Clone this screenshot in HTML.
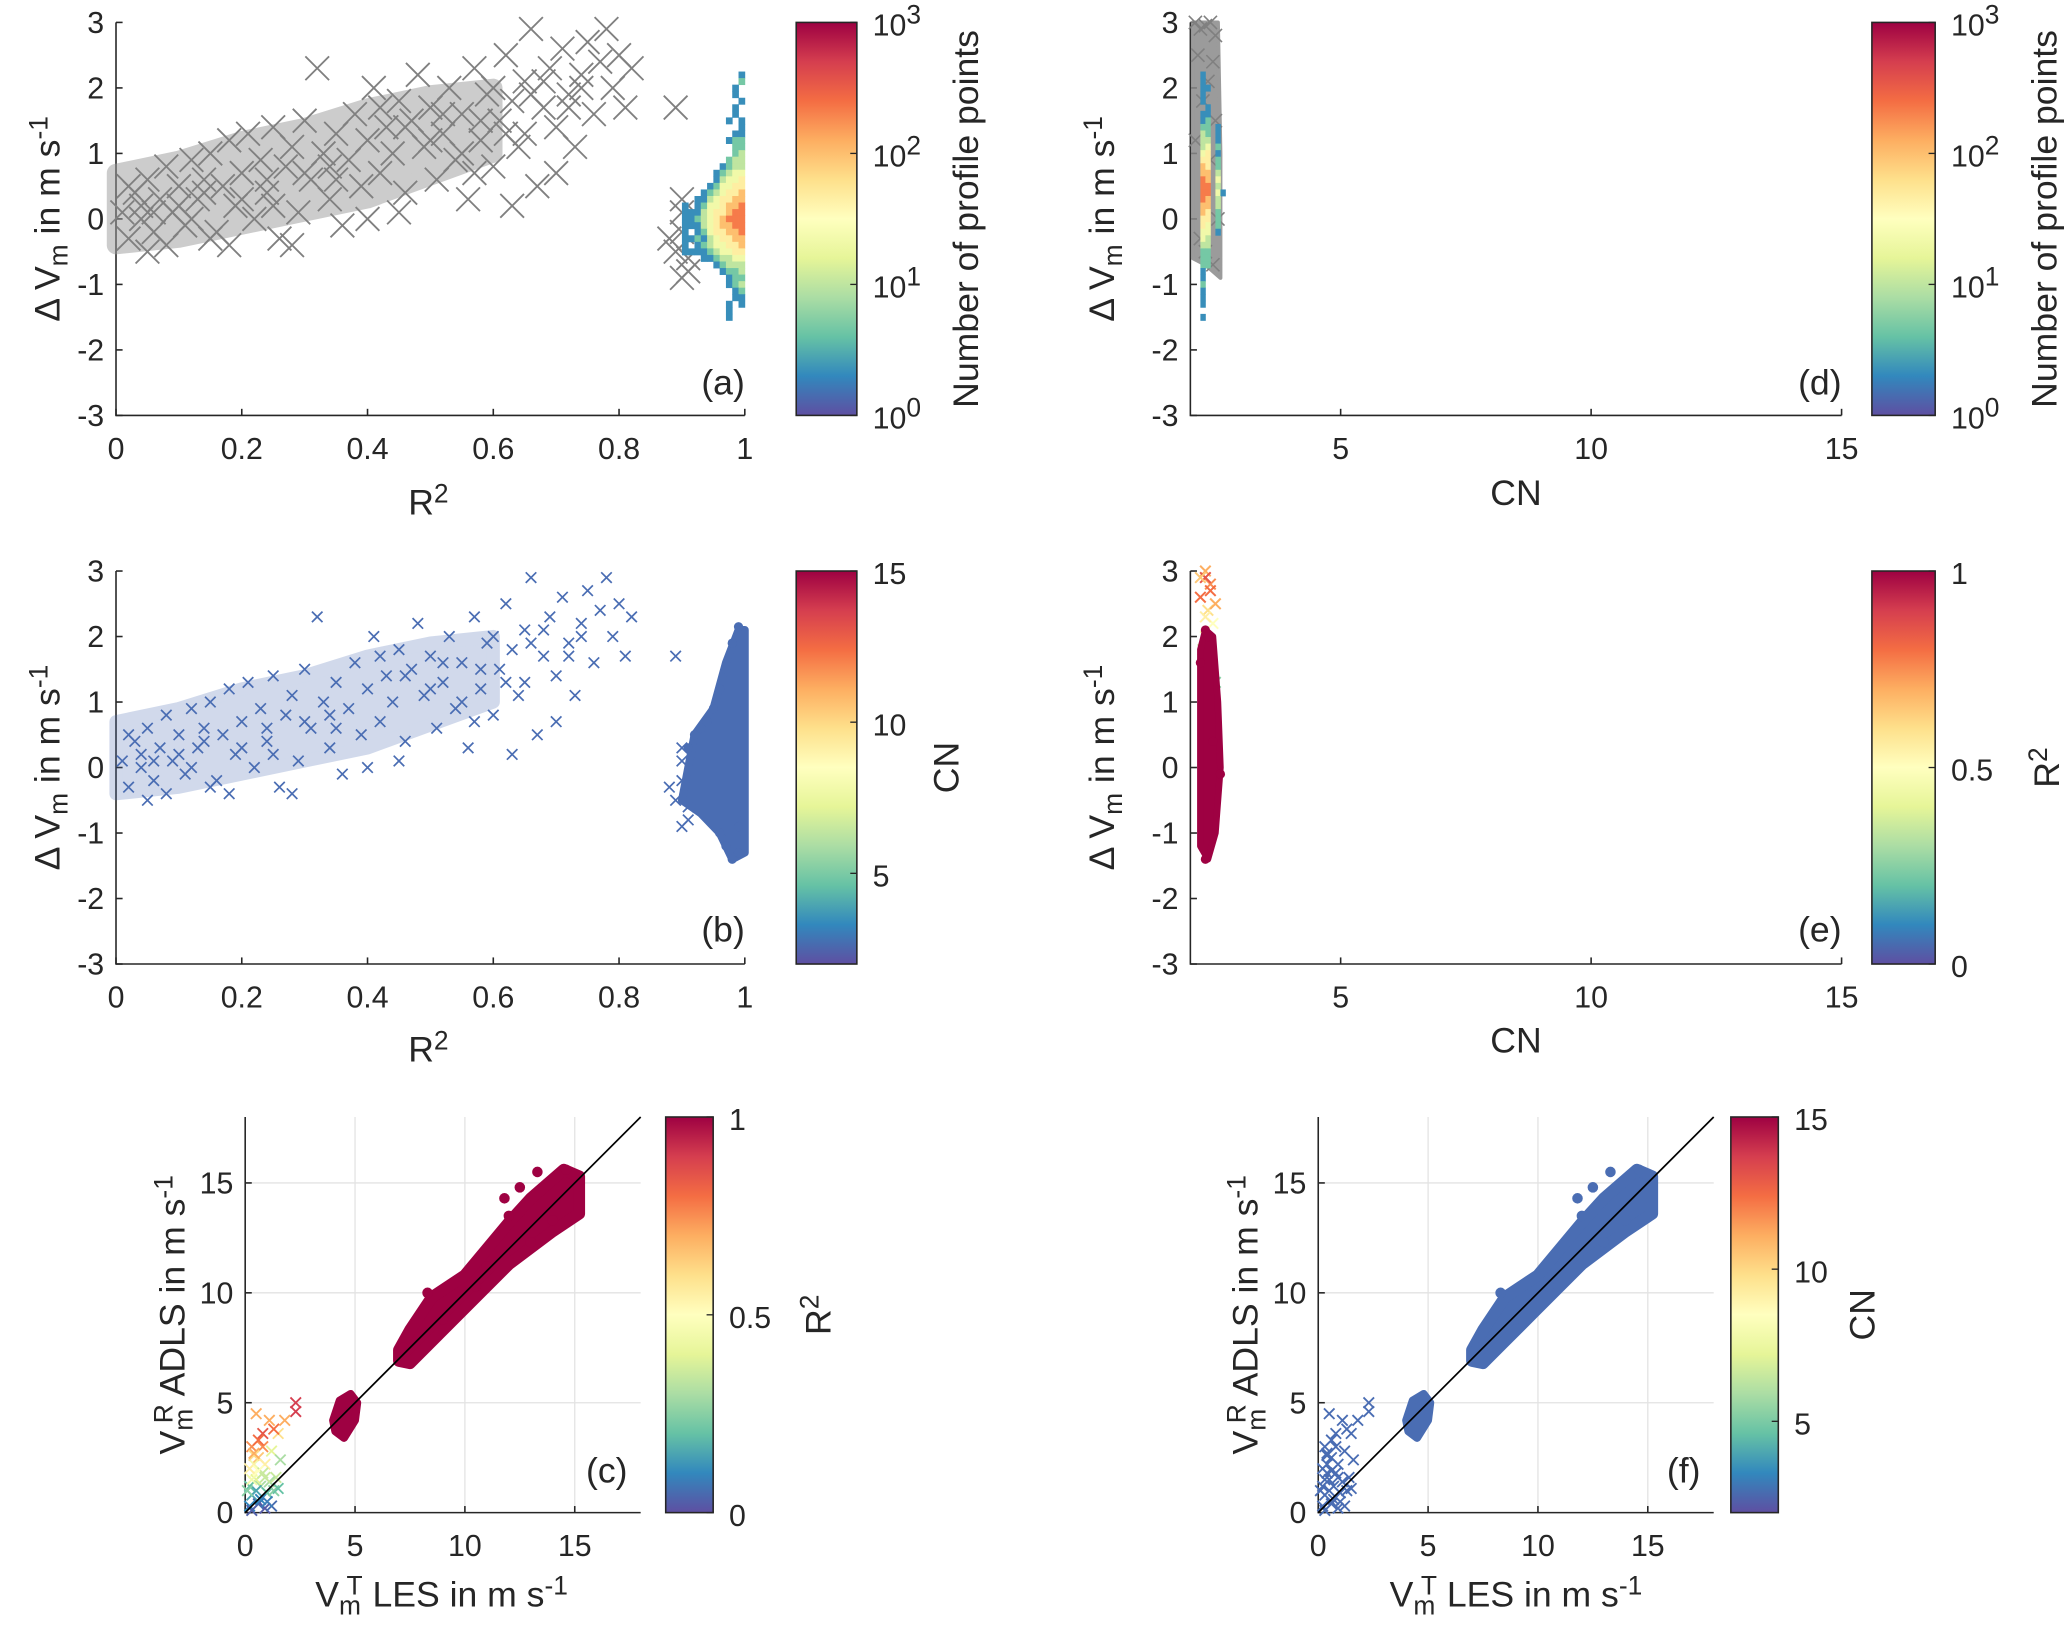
<!DOCTYPE html>
<html><head><meta charset="utf-8"><style>
html,body{margin:0;padding:0;background:#fff}
svg{display:block;font-family:"Liberation Sans",Arial,sans-serif}
.tk{font-size:23px;fill:#262626}
.lb{font-size:27px;fill:#262626}
</style></head><body>
<svg id="fig" width="2067" height="1630" viewBox="0 0 1568 1236" preserveAspectRatio="none" xmlns="http://www.w3.org/2000/svg">
<defs>
<linearGradient id="spec" x1="0" y1="1" x2="0" y2="0">
<stop offset="0" stop-color="#5e4fa2"/><stop offset="0.1" stop-color="#3288bd"/><stop offset="0.2" stop-color="#66c2a5"/><stop offset="0.3" stop-color="#abdda4"/><stop offset="0.4" stop-color="#e6f598"/><stop offset="0.5" stop-color="#ffffbf"/><stop offset="0.6" stop-color="#fee08b"/><stop offset="0.7" stop-color="#fdae61"/><stop offset="0.8" stop-color="#f46d43"/><stop offset="0.9" stop-color="#d53e4f"/><stop offset="1" stop-color="#9e0142"/>
</linearGradient>
</defs>
<g id="layer"></g>
<text class="lb" transform="translate(45,166) rotate(-90)" text-anchor="middle">Δ V<tspan baseline-shift="-30%" font-size="20">m</tspan> in m s<tspan baseline-shift="45%" font-size="20">-1</tspan></text>
<text class="lb" transform="translate(45,582) rotate(-90)" text-anchor="middle">Δ V<tspan baseline-shift="-30%" font-size="20">m</tspan> in m s<tspan baseline-shift="45%" font-size="20">-1</tspan></text>
<text class="lb" transform="translate(845,166) rotate(-90)" text-anchor="middle">Δ V<tspan baseline-shift="-30%" font-size="20">m</tspan> in m s<tspan baseline-shift="45%" font-size="20">-1</tspan></text>
<text class="lb" transform="translate(845,582) rotate(-90)" text-anchor="middle">Δ V<tspan baseline-shift="-30%" font-size="20">m</tspan> in m s<tspan baseline-shift="45%" font-size="20">-1</tspan></text>
<text class="lb" transform="translate(140,997) rotate(-90)" text-anchor="middle">V<tspan baseline-shift="-30%" font-size="20">m</tspan><tspan dx="-11" baseline-shift="45%" font-size="20">R</tspan> ADLS in m s<tspan baseline-shift="45%" font-size="20">-1</tspan></text>
<text class="lb" transform="translate(954,997) rotate(-90)" text-anchor="middle">V<tspan baseline-shift="-30%" font-size="20">m</tspan><tspan dx="-11" baseline-shift="45%" font-size="20">R</tspan> ADLS in m s<tspan baseline-shift="45%" font-size="20">-1</tspan></text>
<text class="lb" x="325" y="390" text-anchor="middle">R<tspan baseline-shift="45%" font-size="20">2</tspan></text>
<text class="lb" x="325" y="805" text-anchor="middle">R<tspan baseline-shift="45%" font-size="20">2</tspan></text>
<text class="lb" x="1150" y="383" text-anchor="middle">CN</text>
<text class="lb" x="1150" y="798" text-anchor="middle">CN</text>
<text class="lb" x="335" y="1218" text-anchor="middle">V<tspan baseline-shift="-30%" font-size="20">m</tspan><tspan dx="-11" baseline-shift="45%" font-size="20">T</tspan> LES in m s<tspan baseline-shift="45%" font-size="20">-1</tspan></text>
<text class="lb" x="1150" y="1218" text-anchor="middle">V<tspan baseline-shift="-30%" font-size="20">m</tspan><tspan dx="-11" baseline-shift="45%" font-size="20">T</tspan> LES in m s<tspan baseline-shift="45%" font-size="20">-1</tspan></text>
<text class="lb" transform="translate(742,166) rotate(-90)" text-anchor="middle">Number of profile points</text>
<text class="lb" transform="translate(1560,166) rotate(-90)" text-anchor="middle">Number of profile points</text>
<text class="lb" transform="translate(727,582) rotate(-90)" text-anchor="middle">CN</text>
<text class="lb" transform="translate(1562,582) rotate(-90)" text-anchor="middle">R<tspan baseline-shift="45%" font-size="20">2</tspan></text>
<text class="lb" transform="translate(630,997) rotate(-90)" text-anchor="middle">R<tspan baseline-shift="45%" font-size="20">2</tspan></text>
<text class="lb" transform="translate(1422,997) rotate(-90)" text-anchor="middle">CN</text>
<text class="lb" x="565" y="299" text-anchor="end">(a)</text>
<text class="lb" x="1397" y="299" text-anchor="end">(d)</text>
<text class="lb" x="565" y="714" text-anchor="end">(b)</text>
<text class="lb" x="1397" y="714" text-anchor="end">(e)</text>
<text class="lb" x="476" y="1124" text-anchor="end">(c)</text>
<text class="lb" x="1290" y="1124" text-anchor="end">(f)</text>
</svg>
<script>
// ---------- data ----------
const lowR2 = [0.01,0.02,0.03,0.04,0.05,0.06,0.07,0.08,0.09,0.1,0.11,0.12,0.13,0.14,0.15,0.16,0.17,0.18,0.19,0.2,0.21,0.22,0.23,0.24,0.25,0.26,0.27,0.28,0.29,0.3,0.31,0.32,0.33,0.34,0.35,0.36,0.37,0.38,0.39,0.4,0.41,0.42,0.43,0.44,0.45,0.46,0.47,0.48,0.49,0.5,0.51,0.52,0.53,0.54,0.55,0.56,0.57,0.58,0.59,0.6,0.61,0.62,0.63,0.64,0.65,0.66,0.67,0.68,0.69,0.7,0.71,0.72,0.73,0.74,0.75,0.76,0.77,0.78,0.79,0.8,0.81,0.82,0.12,0.05,0.15,0.25,0.35,0.45,0.55,0.65,0.18,0.28,0.08,0.63,0.7,0.4,0.89,0.9,0.9,0.89,0.91,0.9,0.88,0.91,0.9,0.52,0.58,0.6,0.66,0.68,0.72,0.74,0.57,0.62,0.46,0.5,0.42,0.02,0.04,0.06,0.1,0.14,0.2,0.24,0.3,0.34];
const lowDV = [0.1,-0.3,0.4,0.0,0.6,-0.2,0.3,0.8,0.1,0.5,-0.1,0.9,0.3,0.6,1.0,-0.2,0.5,1.2,0.2,0.7,1.3,0.0,0.9,0.4,1.4,-0.3,0.8,1.1,0.1,1.5,0.6,2.3,1.0,0.3,1.3,-0.1,0.9,1.6,0.5,1.2,2.0,0.7,1.4,1.0,1.8,0.4,1.5,2.2,1.1,1.7,0.6,1.3,2.0,0.9,1.6,0.3,2.3,1.2,1.9,0.8,1.5,2.5,1.8,1.1,2.1,2.9,0.5,1.7,2.3,1.4,2.6,1.9,1.1,2.2,2.7,1.6,2.4,2.9,2.0,2.5,1.7,2.3,0.0,-0.5,-0.3,0.2,0.6,0.1,1.0,1.3,-0.4,-0.4,-0.4,0.2,0.7,0.0,1.7,0.3,-0.2,-0.5,-0.8,0.1,-0.3,-0.6,-0.9,1.6,1.5,2.0,1.9,2.1,1.7,2.0,0.7,1.3,1.4,1.2,1.7,0.5,0.2,0.1,0.2,0.4,0.3,0.6,0.7,0.8];
const lowEnvR2 = [0,0.1,0.2,0.3,0.4,0.5,0.6,0.6,0.4,0.3,0.2,0.1,0];
const lowEnvDV = [0.7,0.9,1.2,1.4,1.7,1.9,2.0,1.0,0.3,0.1,-0.1,-0.3,-0.4];
const hmA = [".........1",".........2","........1.","........1.",".........1","........1.","........1.",".......1.1",".........1","........11",".......122","........22","........23",".......233","......1233",".....12344",".....13445","....124455","...1234556","..11345566","1.12445667","1113455677","1123456777","1113456677","1.12455667","1121345566","1.12344556","1111234455","...1123344",".....12333","......1223",".......122",".......123","........12","........11",".......1.1",".......1..",".......1.."];
const hmATop = 2.2, hmAX0 = 0.905, hmADx = 0.01, hmADy = 0.1;
const hmD = ["1....","1....","11...","1....","1....",".1...","11...","12...","22.1.","32.1.","33.1.","34.2.","45.1.","55.2.","65.2.","66.3.","76.4.","77.3.","77.41","76.3.","66.3.","65.2.","55.2.","54.2.","44.1.","43...","33...","22...","22...","22...","1....","1....","2....","1....","1....","1....",".....","1...."];
const hmDTop = 2.2, hmDX0 = 2.25, hmDDx = 0.1, hmDDy = 0.1;
const dEnvCN = [2.05,2.05,2.55,2.6,2.6,2.3];
const dEnvDV = [-0.6,3.0,3.0,1.0,-0.9,-0.7];
const dCN = [2.1,2.2,2.3,2.4,2.5,2.15,2.45,2.35,2.25,2.5,2.1,2.4,2.55,2.2,2.3,2.45];
const dDV = [3.0,2.9,2.95,3.0,2.8,2.5,2.4,2.1,1.8,1.5,1.2,0.9,0.0,-0.3,-0.5,-0.7];
const bBlobR2 = [0.9,0.92,0.95,0.97,0.99,1.0,1.0,0.98,0.96,0.93,0.9];
const bBlobDV = [-0.5,0.5,0.9,1.6,2.1,2.1,-1.3,-1.4,-1.0,-0.7,-0.5];
const bDotR2 = [0.99,0.98,0.97,0.96,0.95,0.94,0.93,0.92,0.91,0.99,0.98,0.97,0.96,0.99];
const bDotDV = [2.15,1.9,1.5,1.2,0.9,0.7,0.6,0.5,0.3,-1.3,-1.4,-1.2,-1.0,-0.9];
const bCN = 3;
const eBlobCN = [2.2,2.2,2.3,2.45,2.55,2.6,2.5,2.35,2.2];
const eBlobDV = [-1.2,1.8,2.1,2.0,1.0,0.0,-1.0,-1.4,-1.2];
const eXCN = [2.3,2.4,2.2,2.35,2.45,2.3,2.25,2.4,2.5,2.3,2.5,2.2,2.4,2.3];
const eXDV = [3.0,2.8,2.6,2.4,2.2,2.0,1.8,1.6,1.3,2.9,2.5,2.9,2.7,2.3];
const eXR2 = [0.7,0.75,0.8,0.6,0.5,0.45,0.35,0.3,0.25,0.85,0.7,0.65,0.8,0.55];
const eDotCN = [2.3,2.35,2.3,2.6,2.2,2.45];
const eDotDV = [2.1,2.0,-1.4,-0.1,1.6,0.4];
const bandVT = [7,7.5,8.5,10,12,13,14.5,15.2,15.2,14,12,10,8.5,7.5,7];
const bandVR = [7.4,8.3,9.8,10.8,13.2,14.3,15.6,15.3,13.6,12.8,11.3,9.3,7.8,6.8,6.9];
const clusVT = [4,4.3,4.8,5.1,5.0,4.5,4.1];
const clusVR = [4.2,5.1,5.4,5.0,4.2,3.4,3.7];
const dotVT = [13.3,12.5,11.8,8.3,12.0,14.6,9.0,10.5,7.2,14.0,13.0,11.0];
const dotVR = [15.5,14.8,14.3,10.0,13.5,15.6,8.8,10.3,7.5,13.3,12.3,11.2];
const xVT = [0.3,0.5,0.8,1.1,1.5,2.3,2.3,1.3,0.6,0.9,1.2,1.4,0.4,0.7,1.0,0.3,0.6,0.9,0.2,1.3,0.5,0.8,1.6,0.4,1.1,0.7,1.2,0.2,1.8,0.6,1.0,0.3,0.5,0.8,0.4,1.5,0.2,0.4,0.3,0.6,0.9,0.1];
const xVR = [3.0,4.5,3.6,4.2,3.6,5.0,4.6,3.8,2.5,2.2,2.8,1.6,1.8,1.2,0.9,0.8,0.4,0.2,0.3,1.0,1.5,3.0,2.4,2.2,1.4,0.6,0.3,1.2,4.2,3.3,0.5,0.1,1.0,1.8,2.6,1.1,2.0,2.7,1.5,1.9,1.6,1.0];
const xR2 = [0.75,0.7,0.85,0.7,0.6,0.9,0.9,0.8,0.65,0.55,0.4,0.35,0.5,0.3,0.2,0.15,0.05,0.02,0.1,0.25,0.4,0.75,0.3,0.45,0.3,0.1,0.05,0.2,0.7,0.8,0.08,0.03,0.15,0.35,0.6,0.2,0.55,0.7,0.45,0.5,0.35,0.25];
const fCN = 3;
const r2Ticks = [0,0.2,0.4,0.6,0.8,1];
const r2TickLabels = ["0","0.2","0.4","0.6","0.8","1"];
const dvTicks = [-3,-2,-1,0,1,2,3];
const cnTicks = [5,10,15];
const vTicks = [0,5,10,15];
const logTicks = [0,1,2,3];
const cnCbTicks = [5,10,15];
const r2CbTicks = [0,0.5,1];
const r2CbLabels = ["0","0.5","1"];

// ---------- helpers ----------
const NS = "http://www.w3.org/2000/svg";
const layer = document.getElementById('layer');
function mk(tag, attrs, parent){ const e=document.createElementNS(NS,tag); for(const k in attrs) e.setAttribute(k,attrs[k]); (parent||layer).appendChild(e); return e; }
const stops=[[0,[94,79,162]],[0.1,[50,136,189]],[0.2,[102,194,165]],[0.3,[171,221,164]],[0.4,[230,245,152]],[0.5,[255,255,191]],[0.6,[254,224,139]],[0.7,[253,174,97]],[0.8,[244,109,67]],[0.9,[213,62,79]],[1,[158,1,66]]];
function cmap(t){ t=Math.max(0,Math.min(1,t)); for(let i=1;i<stops.length;i++){ if(t<=stops[i][0]){ const a=stops[i-1],b=stops[i],f=(t-a[0])/(b[0]-a[0]); const c=a[1].map((v,j)=>Math.round(v+(b[1][j]-v)*f)); return `rgb(${c[0]},${c[1]},${c[2]})`; } } return 'rgb(158,1,66)'; }
function axis(l,r,t,b,xmin,xmax,ymin,ymax){ return {l,r,t,b,sx:v=>l+(v-xmin)/(xmax-xmin)*(r-l),sy:v=>b-(v-ymin)/(ymax-ymin)*(b-t)}; }
const A=axis(88,565,17,315,0,1,-3,3), B=axis(88,565,433,731,0,1,-3,3);
const D=axis(903,1397,17,315,2,15,-3,3), E=axis(903,1397,433,731,2,15,-3,3);
const C=axis(186,486,847,1147,0,18,0,18), F=axis(1000,1300,847,1147,0,18,0,18);

function drawAxes(ax,xt,xl,yt,yl,name,grid){
  const g=mk('g',{});
  
  
  if(grid){ xt.forEach(v=>{ if(v>0) mk('line',{x1:ax.sx(v),x2:ax.sx(v),y1:ax.t,y2:ax.b,stroke:'#e3e3e3','stroke-width':1},g);});
            yt.forEach(v=>{ if(v>0) mk('line',{x1:ax.l,x2:ax.r,y1:ax.sy(v),y2:ax.sy(v),stroke:'#e3e3e3','stroke-width':1},g);}); }
  mk('path',{d:`M${ax.l},${ax.t}V${ax.b}H${ax.r}`,fill:'none',stroke:'#262626','stroke-width':1.2},g);
  xt.forEach((v,i)=>{ const x=ax.sx(v); mk('line',{x1:x,x2:x,y1:ax.b,y2:ax.b-5,stroke:'#262626','stroke-width':1.2},g);
    const t=mk('text',{x:x,y:ax.b+33,'text-anchor':'middle',class:'tk'},g); t.textContent=xl[i];
    
     });
  yt.forEach((v,i)=>{ const y=ax.sy(v); mk('line',{x1:ax.l,x2:ax.l+5,y1:y,y2:y,stroke:'#262626','stroke-width':1.2},g);
    const t=mk('text',{x:ax.l-9,y:y+8,'text-anchor':'end',class:'tk'},g); t.textContent=yl[i];
    
     });
}
function colorbar(x,w,t,b,name,ticks,labels,sup){
  const g=mk('g',{});
  
  
  mk('rect',{x:x,y:t,width:w,height:b-t,fill:'url(#spec)',stroke:'#262626','stroke-width':1.2},g);
  ticks.forEach((v,i)=>{ const y=b-v*(b-t);
    mk('line',{x1:x+w-5,x2:x+w,y1:y,y2:y,stroke:'#262626','stroke-width':1},g);
    const tx=mk('text',{x:x+w+12,y:y+10,class:'tk','font-size':'27'},g);
    
    
    if(sup){ tx.textContent='10'; const s=mk('tspan',{'baseline-shift':'45%','font-size':'20'},tx); s.textContent=labels[i]; }
    else tx.textContent=labels[i]; });
}
function xmark(ax,x,y,s,col,sw,parent){ const X=ax.sx(x),Y=ax.sy(y); return mk('path',{d:`M${X-s},${Y-s}L${X+s},${Y+s}M${X-s},${Y+s}L${X+s},${Y-s}`,stroke:col,'stroke-width':sw,fill:'none'},parent); }
function poly(ax,xs,ys,fill,op,parent,sw){ return mk('polygon',{points:xs.map((v,i)=>ax.sx(v)+','+ax.sy(ys[i])).join(' '),fill:fill,opacity:op,stroke:fill,'stroke-width':sw||3,'stroke-linejoin':'round'},parent); }
function heat(ax,rows,top,x0,dx,dy,name){
  const g=mk('g',{});
  
  
  rows.forEach((row,ri)=>{ for(let ci=0;ci<row.length;ci++){ const ch=row[ci]; if(ch==='.') continue;
    const lv=+ch/9, xl=x0+ci*dx-dx/2, yv=top-ri*dy;
    const x1=ax.sx(xl), x2=ax.sx(xl+dx), y1=ax.sy(yv+dy/2), y2=ax.sy(yv-dy/2);
    const r=mk('rect',{x:x1,y:y1,width:x2-x1+0.3,height:y2-y1+0.3,fill:cmap(lv)},g);
    
     } });
}
const dvLabels=dvTicks.map(String);

// ---------- panel a ----------
drawAxes(A,r2Ticks,r2TickLabels,dvTicks,dvLabels,'panel-a',false);
const ga=mk('g',{});


poly(A,lowEnvR2,lowEnvDV,'#9a9a9a',0.5,ga,14);
lowR2.forEach((v,i)=>{ const m=xmark(A,v,lowDV[i],9,'#808080',1.4,ga);
  
   });
heat(A,hmA,hmATop,hmAX0,hmADx,hmADy,'panel-a-heatmap');
colorbar(604,46,17,315,'colorbar-a',logTicks.map(v=>v/3),logTicks.map(String),true);

// ---------- panel d ----------
drawAxes(D,cnTicks,cnTicks.map(String),dvTicks,dvLabels,'panel-d',false);
const gd=mk('g',{});


poly(D,dEnvCN,dEnvDV,'#8a8a8a',0.85,gd);
dCN.forEach((v,i)=>{ const m=xmark(D,v,dDV[i],5,'#808080',1.2,gd);
  
   });
heat(D,hmD,hmDTop,hmDX0,hmDDx,hmDDy,'panel-d-heatmap');
colorbar(1420,48,17,315,'colorbar-d',logTicks.map(v=>v/3),logTicks.map(String),true);

// ---------- panel b ----------
drawAxes(B,r2Ticks,r2TickLabels,dvTicks,dvLabels,'panel-b',false);
const gb=mk('g',{});


const bCol='#4a6db3';
poly(B,lowEnvR2,lowEnvDV,bCol,0.25,gb,10);
lowR2.forEach((v,i)=>{ const m=xmark(B,v,lowDV[i],4,bCol,1.3,gb);
  
   });
poly(B,bBlobR2,bBlobDV,bCol,1,gb,6);
bDotR2.forEach((v,i)=>{ const c=mk('circle',{cx:B.sx(v),cy:B.sy(bDotDV[i]),r:3.5,fill:bCol},gb);
  
   });
colorbar(604,46,433,731,'colorbar-b',cnCbTicks.map(v=>(v-2)/13),cnCbTicks.map(String),false);

// ---------- panel e ----------
drawAxes(E,cnTicks,cnTicks.map(String),dvTicks,dvLabels,'panel-e',false);
const ge=mk('g',{});


eXCN.forEach((v,i)=>{ const m=xmark(E,v,eXDV[i],4,cmap(eXR2[i]),1.5,ge);
  
   });
poly(E,eBlobCN,eBlobDV,cmap(1),1,ge,5);
eDotCN.forEach((v,i)=>{ const c=mk('circle',{cx:E.sx(v),cy:E.sy(eDotDV[i]),r:3.5,fill:cmap(1)},ge);
  
   });
colorbar(1420,48,433,731,'colorbar-e',r2CbTicks,r2CbLabels,false);

// ---------- panels c and f ----------
function vpanel(ax,name,colFn,hc){
  drawAxes(ax,vTicks,vTicks.map(String),vTicks,vTicks.map(String),name,true);
  const g=mk('g',{});
  
  
  xVT.forEach((v,i)=>{ const m=xmark(ax,v,xVR[i],4,colFn(xR2[i]),1.4,g);
    
     });
  poly(ax,bandVT,bandVR,hc,1,g,9);
  poly(ax,clusVT,clusVR,hc,1,g,6);
  dotVT.forEach((v,i)=>{ const c=mk('circle',{cx:ax.sx(v),cy:ax.sy(dotVR[i]),r:4,fill:hc},g);
    
     });
  const ln=mk('line',{x1:ax.sx(0),y1:ax.sy(0),x2:ax.sx(18),y2:ax.sy(18),stroke:'#000','stroke-width':1.3});
  
  
}
vpanel(C,'panel-c',r=>cmap(r),cmap(1));
colorbar(505,36,847,1147,'colorbar-c',r2CbTicks,r2CbLabels,false);
vpanel(F,'panel-f',r=>'#4a6db3','#4a6db3');
colorbar(1313,36,847,1147,'colorbar-f',cnCbTicks.map(v=>(v-2)/13),cnCbTicks.map(String),false);
</script>
</body></html>
